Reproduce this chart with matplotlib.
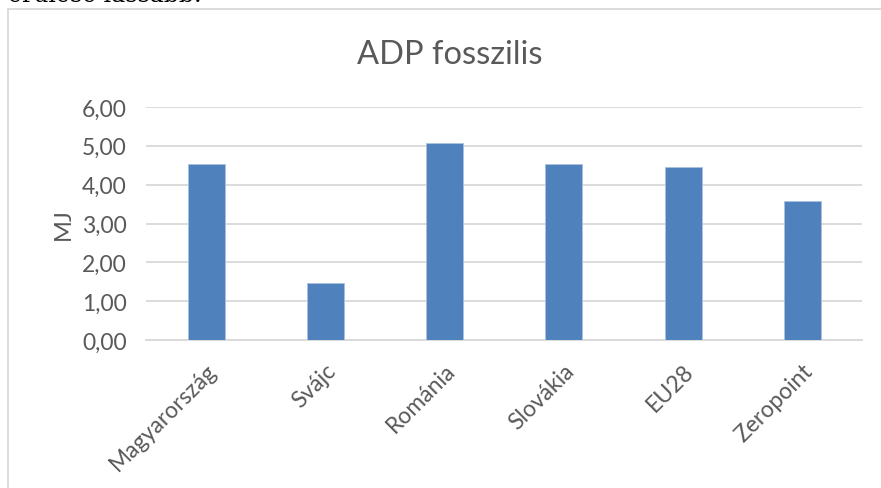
import matplotlib.pyplot as plt
from matplotlib.patches import Rectangle
from matplotlib.ticker import FuncFormatter

# data
categories = ['Magyarország', 'Svájc', 'Románia', 'Slovákia', 'EU28', 'Zeropoint']
values = [4.54, 1.48, 5.07, 4.54, 4.46, 3.58]
yticks = [0, 1, 2, 3, 4, 5, 6]

plt.rcParams['font.family'] = ['Lato', 'DejaVu Sans']
grey = '#595959'

W, H = 881, 489
fig = plt.figure(figsize=(W / 100, H / 100), dpi=100)

# chart frame (only left and top edges visible in the crop)
fig.patches.append(Rectangle((8 / W, -0.1), 1.2, 1.1 - 10 / H, transform=fig.transFigure,
                             fill=False, edgecolor='#d9d9d9', linewidth=1.3))

# clipped line of document text above the chart
fig.text(8 / W, 1 - 2 / H, 'erülése lássabb.', family='DejaVu Serif', fontsize=17,
         va='baseline', ha='left', color='black')

ax = fig.add_axes([146.4 / W, (H - 341) / H, (862 - 146.4) / W, (341 - 108) / H])
x = range(len(categories))
ax.bar(x, values, width=0.31, color='#4f81bd', edgecolor='#a9c1df', linewidth=0.6, zorder=3)

ax.set_xlim(-0.5, len(categories) - 0.5)
ax.set_ylim(0, 6)
ax.set_yticks(yticks)
ax.yaxis.set_major_formatter(FuncFormatter(lambda v, p: f'{v:.2f}'.replace('.', ',')))
ax.grid(axis='y', color='#d9d9d9', linewidth=1.3, zorder=0)
ax.set_axisbelow(True)

for s in ['top', 'right', 'left']:
    ax.spines[s].set_visible(False)
ax.spines['bottom'].set_color('#d9d9d9')
ax.spines['bottom'].set_linewidth(1.3)

ax.tick_params(axis='y', length=0, pad=14, labelsize=16.5, labelcolor=grey)
ax.tick_params(axis='x', length=0, pad=14, labelsize=16.5, labelcolor=grey)
ax.set_xticks(list(x))
ax.set_xticklabels(categories, rotation=45, ha='right', va='top', rotation_mode='anchor')

ax.set_ylabel('MJ', fontsize=17, color=grey, labelpad=6)
fig.text(450 / W, 1 - 55 / H, 'ADP fosszilis', fontsize=23.5, color=grey, ha='center', va='center')

fig.savefig('out.png', dpi=100)
